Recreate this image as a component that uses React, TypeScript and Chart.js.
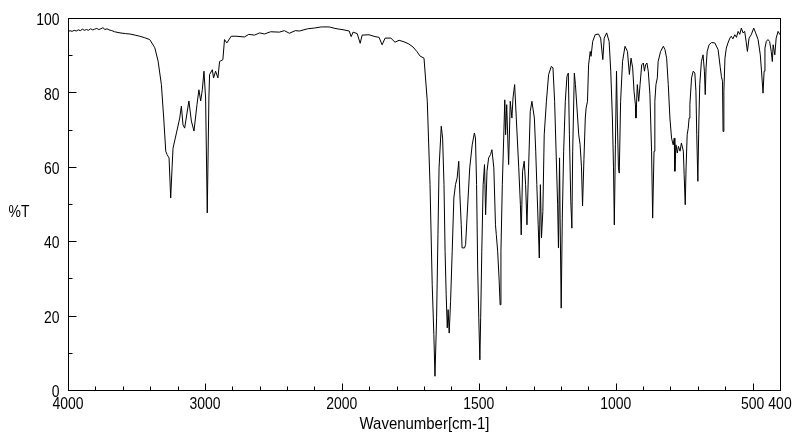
import React, { useEffect, useRef } from "react";
import { Chart, registerables } from "chart.js";

Chart.register(...registerables);

// Wavenumber (cm-1) and %T
const wavenumbers = [
  4000, 3985, 3970, 3955, 3940, 3925, 3910, 3895, 3880, 3865, 3850, 3835, 3820, 3805, 3790, 3775, 3760, 3745, 3730, 3715,
  3700, 3680, 3660, 3620, 3580, 3548, 3510, 3476, 3440, 3403, 3366, 3342, 3318, 3301, 3286, 3277, 3262, 3250, 3240, 3233,
  3208, 3184, 3172, 3160, 3148, 3117, 3099, 3080, 3058, 3044, 3031, 3019, 3007, 2995, 2983, 2971, 2966, 2946, 2937, 2922,
  2905, 2893, 2869, 2857, 2840, 2808, 2771, 2711, 2680, 2638, 2600, 2565, 2520, 2456, 2420, 2383, 2340, 2310, 2250, 2201,
  2150, 2092, 2050, 2019,
  1992, 1973, 1966, 1959, 1944, 1933, 1926, 1901, 1879, 1864, 1853, 1842, 1821, 1806, 1791, 1773, 1755, 1740, 1726, 1715,
  1700, 1688, 1678, 1670, 1664, 1660, 1654, 1649, 1645, 1637, 1632, 1627, 1623, 1619, 1615, 1612, 1608, 1603, 1597, 1591,
  1585, 1579, 1573, 1569, 1564, 1561, 1552, 1548, 1543, 1533, 1524, 1516, 1512, 1508, 1504, 1500, 1496, 1493, 1489, 1484,
  1479, 1475, 1470, 1464, 1457, 1452, 1445, 1439, 1436, 1431, 1426, 1422, 1419, 1414, 1409, 1405, 1402, 1398, 1391, 1385,
  1379, 1375, 1369, 1363, 1354, 1348, 1345, 1340, 1334, 1329, 1324, 1318, 1312, 1306, 1297, 1292, 1288, 1283, 1279, 1275,
  1271, 1266, 1261, 1253, 1245, 1235, 1229, 1223, 1217, 1212, 1209, 1205, 1203, 1199, 1195, 1190, 1184, 1178, 1173, 1169,
  1164, 1160, 1157, 1151, 1147, 1139, 1135, 1130, 1125, 1121, 1116, 1111, 1108, 1103, 1099, 1093, 1090, 1084, 1075, 1063,
  1055, 1047, 1042, 1033, 1024, 1018, 1012, 1008, 1005, 1001, 997, 994, 990, 987, 982, 975, 966, 957, 950, 944,
  938, 933, 928, 926, 921, 916, 911, 905, 899, 895, 891, 886, 881, 875, 869, 865, 860, 857, 853, 848,
  845, 836, 826, 820, 814, 808, 802, 796, 790, 786, 784, 780, 775, 771, 765, 760, 753, 750, 746, 743,
  739, 735, 732, 729, 723, 717, 711, 707, 704, 700, 696, 693, 687, 681, 676, 673, 670, 666, 659, 650,
  638, 626, 618, 614, 610, 608, 605, 601, 596, 590, 583, 578, 572, 565, 559, 553, 547, 541, 535, 529,
  523, 519, 513, 505, 496, 489, 480, 472, 467, 462, 458, 455, 450, 444, 438, 432, 428, 425, 419, 414,
  407, 400,
];

const transmittance = [
  96.3, 96.6, 96.4, 96.7, 96.5, 96.8, 96.6, 97.0, 96.7, 96.9, 96.7, 97.1, 96.8, 97.0, 97.2, 96.9, 97.1, 97.4, 96.9, 97.1,
  96.8, 96.6, 96.3, 96.0, 95.8, 95.7, 95.4, 95.1, 94.7, 94.2, 92.0, 88.4, 82.1, 73.1, 64.2, 63.3, 62.4, 51.6, 59.7, 65.0,
  69.1, 73.1, 76.3, 71.3, 70.4, 77.7, 72.3, 69.6, 76.7, 80.7, 77.7, 80.7, 85.7, 78.5, 47.6, 78.5, 84.8, 86.1, 83.9, 85.7,
  83.9, 88.3, 88.8, 94.2, 93.3, 95.1, 95.1, 94.9, 95.6, 95.4, 96.0, 95.7, 96.3, 96.2, 96.6, 95.9, 96.6, 96.5, 97.1, 97.3,
  97.6, 97.6, 97.2, 97.0,
  96.8, 96.5, 95.0, 96.2, 95.8, 93.2, 95.4, 95.5, 95.0, 94.8, 92.8, 94.6, 94.6, 93.5, 94.0, 93.6, 93.0, 92.2, 91.0, 89.8,
  89.2, 77.6, 55.2, 28.3, 14.9, 3.7, 19.4, 41.8, 59.7, 70.9, 67.7, 55.2, 37.3, 25.6, 16.7, 21.6, 15.3, 23.8, 37.3, 51.6,
  55.2, 57.0, 61.5, 52.5, 44.4, 38.2, 38.2, 39.1, 46.2, 59.7, 65.9, 69.1, 67.7, 55.2, 32.8, 19.4, 8.1, 19.4, 37.3, 55.2,
  60.6, 47.1, 58.8, 62.4, 63.3, 64.6, 59.7, 44.4, 41.8, 37.3, 30.1, 22.9, 37.3, 55.2, 67.7, 78.0, 68.6, 76.7, 60.6, 77.6,
  73.1, 78.5, 82.1, 73.1, 59.7, 49.8, 41.7, 58.8, 61.5, 55.2, 44.4, 59.7, 74.9, 77.6, 73.1, 64.2, 55.2, 44.4, 35.5, 55.2,
  40.9, 48.0, 68.6, 77.6, 84.8, 87.0, 86.6, 77.6, 62.4, 49.8, 38.2, 62.4, 46.2, 22.0, 46.2, 64.2, 77.6, 84.3, 85.2, 68.6,
  50.7, 43.5, 64.2, 85.2, 82.1, 73.1, 68.6, 66.0, 60.0, 49.5, 62.0, 73.1, 75.8, 77.6, 87.4, 91.0, 89.7, 93.7, 95.5, 95.7,
  94.6, 88.8, 94.6, 96.0, 93.7, 85.7, 73.1, 59.7, 44.4, 65.9, 85.7, 73.1, 59.7, 58.3, 77.6, 88.3, 92.4, 91.0, 84.8, 89.2,
  86.6, 80.3, 76.7, 73.1, 82.1, 77.6, 82.1, 87.4, 87.9, 85.7, 87.4, 87.9, 85.7, 79.4, 64.2, 46.2, 64.2, 77.6, 82.1, 83.9,
  88.3, 91.0, 92.4, 91.5, 89.2, 82.1, 73.1, 67.7, 65.9, 67.7, 58.8, 65.9, 63.7, 65.5, 64.2, 66.4, 64.2, 57.9, 49.8, 59.7,
  68.6, 70.4, 73.1, 76.7, 83.9, 85.7, 85.2, 80.3, 68.6, 56.1, 73.1, 82.1, 88.3, 90.1, 85.7, 79.4, 86.6, 91.0, 92.8, 93.4,
  93.3, 91.5, 86.6, 84.3, 83.0, 69.5, 80.3, 89.2, 91.9, 93.3, 94.6, 95.1, 94.4, 95.5, 94.8, 96.4, 95.6, 97.3, 96.0, 96.4,
  93.3, 91.0, 94.6, 95.5, 97.3, 96.0, 94.2, 90.1, 85.2, 79.8, 85.7, 91.9, 93.7, 94.2, 93.7, 91.0, 88.3, 92.8, 90.1, 94.6,
  96.4, 95.5,
];

const xTickLabels = [4000, 3000, 2000, 1500, 1000, 500, 400];
const xMinorTicks = [3800, 3600, 3400, 3200, 2800, 2600, 2400, 2200, 1900, 1800, 1700, 1600, 1400, 1300, 1200, 1100, 900, 800, 700, 600];
const yMajorTicks = [0, 20, 40, 60, 80, 100];
const yMinorTicks = [10, 30, 50, 70, 90];
const xTitle = "Wavenumber[cm-1]";
const yTitle = "%T";

const FONT = "'Liberation Sans', Arial, sans-serif";
const NARROW = 0.82;

// Piecewise wavenumber axis: 4000-2000 drawn at half the scale of 2000-400
const toAxis = (w: number) => (w >= 2000 ? (4000 - w) / 2 : 1000 + (2000 - w));

function drawNarrowText(ctx: CanvasRenderingContext2D, text: string, x: number, y: number, align: CanvasTextAlign, sx: number) {
  ctx.save();
  ctx.translate(x, y);
  ctx.scale(sx, 1);
  ctx.textAlign = align;
  ctx.textBaseline = "middle";
  ctx.fillText(text, 0, 0);
  ctx.restore();
}

const framePlugin = {
  id: "irFrame",
  afterDraw(chart: any) {
    const { ctx, chartArea, scales } = chart;
    const x = scales.x;
    const y = scales.y;
    const L = Math.round(chartArea.left) + 0.5;
    const R = Math.round(chartArea.right) + 0.5;
    const T = Math.round(chartArea.top) + 0.5;
    const B = Math.round(chartArea.bottom) + 0.5;
    ctx.save();
    ctx.strokeStyle = "#000";
    ctx.lineWidth = 1;
    ctx.strokeRect(L, T, R - L, B - T);
    ctx.beginPath();
    yMajorTicks.filter((v) => v > 0 && v < 100).forEach((v) => {
      const py = Math.round(y.getPixelForValue(v)) + 0.5;
      ctx.moveTo(L, py);
      ctx.lineTo(L + 8, py);
    });
    yMinorTicks.forEach((v) => {
      const py = Math.round(y.getPixelForValue(v)) + 0.5;
      ctx.moveTo(L, py);
      ctx.lineTo(L + 4, py);
    });
    xTickLabels.filter((w) => w < 4000 && w > 400).forEach((w) => {
      const px = Math.round(x.getPixelForValue(toAxis(w))) + 0.5;
      ctx.moveTo(px, B);
      ctx.lineTo(px, B - 7);
    });
    xMinorTicks.forEach((w) => {
      const px = Math.round(x.getPixelForValue(toAxis(w))) + 0.5;
      ctx.moveTo(px, B);
      ctx.lineTo(px, B - 4);
    });
    ctx.stroke();

    ctx.fillStyle = "#000";
    ctx.font = `17px ${FONT}`;
    // x tick labels
    xTickLabels.forEach((w) => {
      const px = x.getPixelForValue(toAxis(w));
      drawNarrowText(ctx, String(w), px, B + 14, "center", NARROW);
    });
    // y tick labels
    yMajorTicks.forEach((v) => {
      const py = y.getPixelForValue(v);
      drawNarrowText(ctx, String(v), L - 9, py + 2.5, "right", NARROW);
    });
    drawNarrowText(ctx, xTitle, (L + R) / 2, B + 34, "center", 0.88);
    drawNarrowText(ctx, yTitle, 19, (T + B) / 2 + 8, "center", NARROW);
    ctx.restore();
  },
};

export default function App() {
  const canvasRef = useRef<HTMLCanvasElement | null>(null);

  useEffect(() => {
    const canvas = canvasRef.current;
    if (!canvas) return;
    const chart = new Chart(canvas, {
      type: "line",
      data: {
        datasets: [
          {
            data: wavenumbers.map((w, i) => ({ x: toAxis(w), y: transmittance[i] })),
            borderColor: "#000",
            borderWidth: 1,
            pointRadius: 0,
            fill: false,
            tension: 0,
          },
        ],
      },
      options: {
        animation: false,
        responsive: false,
        maintainAspectRatio: false,
        devicePixelRatio: 1,
        layout: { padding: { top: 18, right: 20, left: 0, bottom: 0 } },
        plugins: { legend: { display: false }, tooltip: { enabled: false } },
        scales: {
          x: {
            type: "linear",
            min: 0,
            max: 2600,
            grid: { display: false, drawTicks: false },
            border: { display: false },
            afterBuildTicks: (s: any) => {
              s.ticks = xTickLabels.map((w) => ({ value: toAxis(w) }));
            },
            afterFit: (s: any) => {
              s.height = 51;
            },
            ticks: { display: false, autoSkip: false },
          },
          y: {
            type: "linear",
            min: 0,
            max: 100,
            grid: { display: false, drawTicks: false },
            border: { display: false },
            afterBuildTicks: (s: any) => {
              s.ticks = yMajorTicks.map((v) => ({ value: v }));
            },
            afterFit: (s: any) => {
              s.width = 68;
            },
            ticks: { display: false },
          },
        },
      },
      plugins: [framePlugin],
    } as any);
    return () => chart.destroy();
  }, []);

  return (
    <div style={{ position: "absolute", left: 0, top: 0, width: 800, height: 441, background: "#fff" }}>
      <canvas ref={canvasRef} width={800} height={441} />
    </div>
  );
}
